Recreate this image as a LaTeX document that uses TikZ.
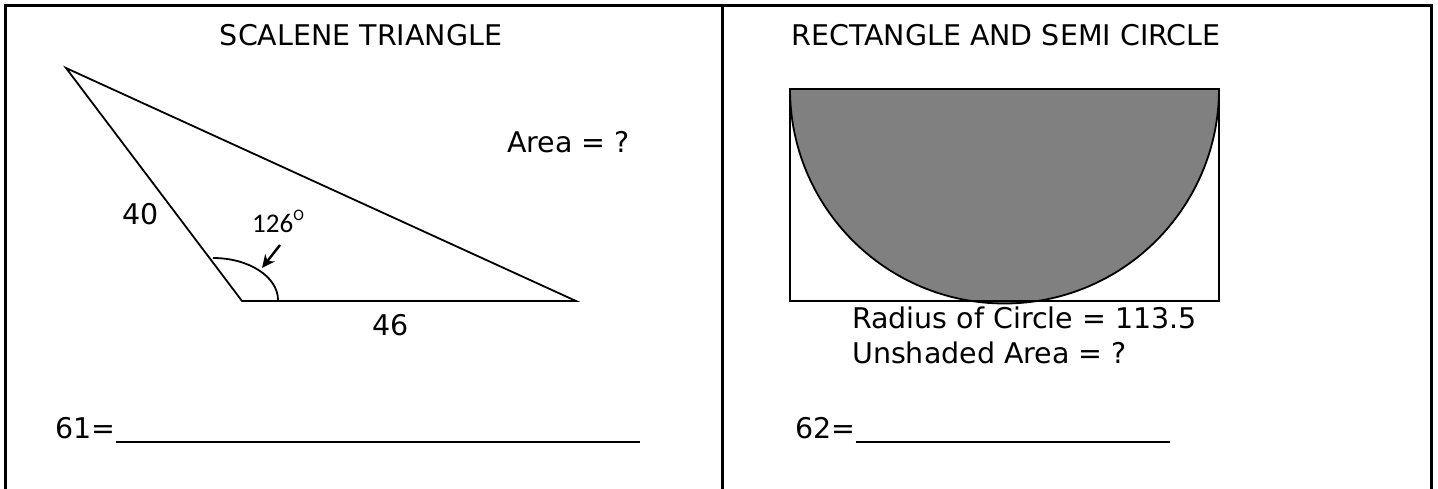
\documentclass[tikz,border=0pt]{standalone}
\usepackage{fontspec}
\setmainfont{DejaVu Sans}
\newfontfamily\anglefont{Carlito}
\usetikzlibrary{arrows.meta}

\begin{document}
\begin{tikzpicture}[x=1pt, y=-1pt, >={Stealth[length=13pt,width=12pt]},
    frame/.style={line width=3pt},
    edge/.style={line width=1.8pt},
    uline/.style={line width=1.4pt},
    lbl/.style={font=\fontsize{28.5}{34}\selectfont, inner sep=0pt, anchor=base west}]
    \useasboundingbox (0,0) rectangle (1438,489);

    % table frame
    \draw[frame] (5.5,489) -- (5.5,5.5) -- (1431.5,5.5) -- (1431.5,489);
    \draw[frame] (722,5.5) -- (722,489);

    % left cell: scalene triangle
    \node[lbl, anchor=base] (titleL) at (361,46) {SCALENE TRIANGLE};
    \coordinate (A) at (66,68);
    \coordinate (B) at (242,301);
    \coordinate (C) at (576,301);
    \draw[edge] (A) -- (B) -- (C) -- cycle;
    \draw[edge] (213,258) arc[start angle=90, end angle=0, x radius=65pt, y radius=42pt];
    \coordinate (tail) at (280,245);
    \coordinate (tip) at (262,268);
    \draw[edge, line width=2.4pt, ->] (tail) -- (tip);
    \node[font=\anglefont\fontsize{27}{32}\selectfont, inner sep=0pt, anchor=base west] (ang) at (252,233)
        {126\raisebox{0.45em}{\fontsize{16}{19}\selectfont O}};
    \node[lbl] (side40) at (122,225) {40};
    \node[lbl] (side46) at (372,335) {46};
    \node[lbl] (areaL) at (507,153) {Area = ?};
    \node[lbl] (ans61) at (55,438) {61=};
    \coordinate (end61) at (640,442);
    \draw[uline] (ans61.east |- end61) -- (end61);

    % right cell: rectangle and semi circle
    \node[lbl, anchor=base] (titleR) at (1006,46) {RECTANGLE AND SEMI CIRCLE};
    \coordinate (P) at (790,89);
    \coordinate (Q) at (1219,301);
    \filldraw[edge, fill=gray] (P) arc[start angle=180, end angle=360, radius=214.5pt] -- cycle;
    \draw[edge] (P) rectangle (Q);
    \node[lbl] (radius) at (852,328) {Radius of Circle = 113.5};
    \node[lbl] (unshaded) at (852,363) {Unshaded Area = ?};
    \node[lbl] (ans62) at (795,438) {62=};
    \coordinate (end62) at (1170,442);
    \draw[uline] (ans62.east |- end62) -- (end62);
\end{tikzpicture}
\end{document}
